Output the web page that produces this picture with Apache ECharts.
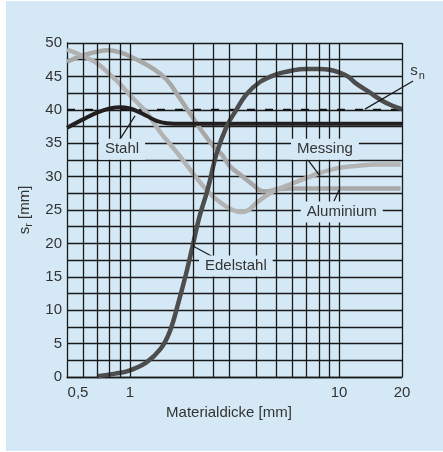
<!DOCTYPE html>
<html>
<head>
<meta charset="utf-8">
<script src="https://cdn.jsdelivr.net/npm/echarts@6/dist/echarts.min.js"></script>
<style>
  html, body { margin: 0; padding: 0; background: #ffffff; }
  #wrap { position: relative; width: 443px; height: 452px; }
  #panel { position: absolute; left: 6px; top: 1px; right: 0; bottom: 1px; background: #d4e9f5; }
  #chart { position: absolute; left: 0; top: 0; width: 443px; height: 452px; }
</style>
</head>
<body>
<div id="wrap"><div id="panel"></div><div id="chart"></div></div>
<script>
// Material thickness (mm) vs. s_r (mm)
const stahl = [[0.5,37.3],[0.6,38.6],[0.7,39.6],[0.8,40.2],[0.9,40.4],[1.0,40.2],[1.1,39.7],[1.2,39.1],[1.35,38.3],[1.5,38.0],[1.8,37.9],[20,37.9]];
const edelstahl = [[0.7,0.1],[0.85,0.5],[1.0,1.0],[1.2,2.2],[1.4,4.2],[1.55,6.8],[1.7,11],[1.85,15.3],[2.0,19.8],[2.15,24],[2.35,28],[2.6,33.5],[2.9,37.5],[3.2,39.8],[3.6,42.3],[4.2,44.2],[5,45.3],[6,45.9],[7,46.1],[8,46.1],[9,46.0],[10,45.6],[11,45],[12,44],[14,42.6],[16,41.4],[18,40.6],[20,40.1]];
const messing = [[0.5,49.0],[0.6,48.0],[0.7,46.9],[0.8,45.3],[0.9,43.8],[1.0,42.2],[1.2,39.6],[1.4,36.6],[1.6,34.4],[1.8,32.4],[2.0,30.5],[2.25,28.5],[2.5,27.0],[2.8,25.8],[3.1,25.0],[3.4,24.7],[3.7,25.0],[4.0,26.0],[4.5,27.2],[5,28.0],[6,29.0],[7,29.8],[8,30.5],[10,31.3],[12,31.6],[15,31.8],[19.7,31.8]];
const aluminium = [[0.5,47.2],[0.6,48.2],[0.7,48.7],[0.78,48.9],[0.9,48.6],[1.0,48.0],[1.13,47.2],[1.3,46.1],[1.5,44.5],[1.7,42.1],[2.0,38.8],[2.2,36.9],[2.5,34.6],[2.75,33.3],[3.0,31.6],[3.4,30.2],[3.9,28.7],[4.3,27.8],[4.6,27.8],[5,28.1],[6,28.2],[10,28.2],[19.7,28.2]];
const sn = [[0.5,40],[20,40]];

// vertical grid positions on the logarithmic thickness axis
const gridX = [0.6,0.7,0.8,0.9,1,2,2.5,3,4,5,6,7,8,9,10,20];
const xTickLabels = [0.5,1,10,20];

// curve labels: text anchor, leader line start and end (data coordinates)
const notes = [
  { text: 'Stahl',     at: [0.916,34.1], from: [0.867,34.9], to: [1.057,39.1] },
  { text: 'Messing',   at: [8.56,34.1],  from: [6.87,33.1],  to: [8.1,30.1] },
  { text: 'Aluminium', at: [10.3,24.7],  from: [9.45,26.3],  to: [10.0,28.0] },
  { text: 'Edelstahl', at: [3.21,16.6],  from: [2.49,18.0],  to: [2.0,19.6] }
];
const snNote = { at: [22.8,45.8], from: [13.3,40.1], to: [22.6,44.3] };

const BG = '#d4e9f5';
const TXT = '#333333';
const GRID = '#1a1a1a';
const FONT = '"Liberation Sans", Arial, sans-serif';

const chart = echarts.init(document.getElementById('chart'), null, { renderer: 'canvas' });

chart.setOption({
  animation: false,
  backgroundColor: 'transparent',
  grid: { left: 67, top: 43, right: 41, bottom: 75 },
  xAxis: {
    type: 'log', logBase: 10, min: 0.5, max: 20,
    name: 'Materialdicke [mm]', nameLocation: 'middle', nameGap: 26,
    nameTextStyle: { fontSize: 15, color: TXT, fontFamily: FONT, padding: [0, 11, 0, 0] },
    axisLine: { show: true, lineStyle: { color: GRID, width: 1.3 } },
    axisTick: { show: false },
    splitLine: { show: false },
    axisLabel: {
      margin: 8, fontSize: 15, color: TXT, fontFamily: FONT,
      showMinLabel: true, showMaxLabel: true,
      formatter: function (v) {
        const hit = xTickLabels.find(t => Math.abs(t - v) < 1e-6);
        if (hit === undefined) return '';
        const s = String(hit).replace('.', ',');
        return hit === 0.5 ? '{first|' + s + '}' : s;
      },
      rich: { first: { fontSize: 15, color: TXT, fontFamily: FONT, padding: [0, 0, 0, 22] } }
    }
  },
  yAxis: {
    type: 'value', min: 0, max: 50, interval: 5,
    name: '{s|s}{sub|r}{s| [mm]}', nameLocation: 'middle', nameGap: 27, nameRotate: 90,
    nameTextStyle: {
      color: TXT, fontFamily: FONT,
      rich: {
        s: { fontSize: 15, color: TXT, fontFamily: FONT, lineHeight: 20 },
        sub: { fontSize: 11, color: TXT, fontFamily: FONT, lineHeight: 12, verticalAlign: 'bottom' }
      }
    },
    axisLine: { show: true, lineStyle: { color: GRID, width: 1.3 } },
    axisTick: { show: false },
    minorTick: { show: false, splitNumber: 2 },
    splitLine: { show: true, lineStyle: { color: GRID, width: 1.3 } },
    minorSplitLine: { show: true, lineStyle: { color: GRID, width: 1.3 } },
    axisLabel: { margin: 5, fontSize: 15, color: TXT, fontFamily: FONT }
  },
  series: [
    {
      name: 'sn', type: 'line', data: sn, symbol: 'none', silent: true, z: 2,
      lineStyle: { color: '#111111', width: 2, type: [8, 10] },
      markLine: {
        silent: true, symbol: ['none', 'none'], label: { show: false },
        lineStyle: { color: GRID, width: 1.3, type: 'solid' },
        emphasis: { disabled: true },
        data: gridX.map(v => ({ xAxis: v }))
      }
    },
    { name: 'Aluminium', type: 'line', data: aluminium, symbol: 'none', smooth: 0.4, z: 3,
      lineStyle: { color: '#a8a8a8', width: 4.5 } },
    { name: 'Messing', type: 'line', data: messing, symbol: 'none', smooth: 0.4, z: 3,
      lineStyle: { color: '#b3b3b3', width: 4.5 } },
    { name: 'Stahl', type: 'line', data: stahl, symbol: 'none', smooth: 0.4, z: 4,
      lineStyle: { color: '#231f20', width: 4 } },
    { name: 'Edelstahl', type: 'line', data: edelstahl, symbol: 'none', smooth: 0.4, z: 4,
      lineStyle: { color: '#4d4d4d', width: 4.5 } }
  ]
});

// leader lines and label boxes, positioned through the chart's coordinate system
const px = p => chart.convertToPixel({ gridIndex: 0 }, p);
const graphics = [];
notes.forEach(n => {
  const a = px(n.from), b = px(n.to), c = px(n.at);
  graphics.push({ type: 'line', z: 20, silent: true,
    shape: { x1: a[0], y1: a[1], x2: b[0], y2: b[1] },
    style: { stroke: GRID, lineWidth: 1.2 } });
  graphics.push({ type: 'text', z: 21, silent: true, x: c[0], y: c[1],
    style: { text: n.text, fontSize: 15, fontFamily: FONT, fill: TXT,
      align: 'center', verticalAlign: 'middle', backgroundColor: BG, padding: [3, 6] } });
});
{
  const a = px(snNote.from), b = px(snNote.to), c = px(snNote.at);
  graphics.push({ type: 'line', z: 20, silent: true,
    shape: { x1: a[0], y1: a[1], x2: b[0], y2: b[1] },
    style: { stroke: GRID, lineWidth: 1.2 } });
  graphics.push({ type: 'text', z: 21, silent: true, x: c[0], y: c[1],
    style: { text: 's', fontSize: 15, fontFamily: FONT, fill: TXT, align: 'center', verticalAlign: 'middle' } });
  graphics.push({ type: 'text', z: 21, silent: true, x: c[0] + 8, y: c[1] + 5,
    style: { text: 'n', fontSize: 11, fontFamily: FONT, fill: TXT, align: 'center', verticalAlign: 'middle' } });
}
chart.setOption({ graphic: graphics });
</script>
</body>
</html>
